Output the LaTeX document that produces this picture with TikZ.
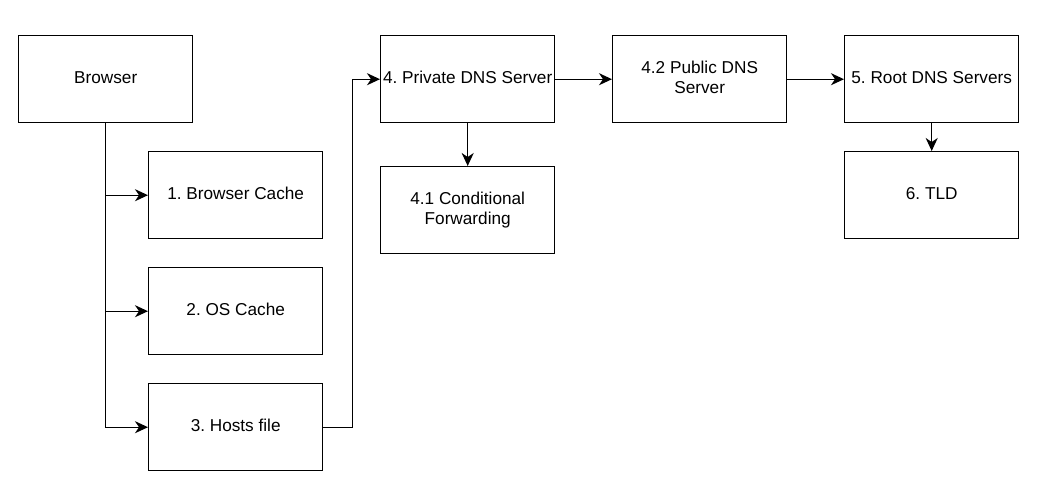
\documentclass[tikz,border=0pt]{standalone}
\usepackage{fontspec}
\setmainfont{Liberation Sans}
\usetikzlibrary{arrows.meta}
\begin{document}
\frenchspacing
\begin{tikzpicture}[x=1pt,y=-1pt,
  box/.style={draw,line width=1.4pt,minimum width=174pt,minimum height=87pt,anchor=north west,align=center,inner xsep=0pt,inner ysep=2pt,text depth=3.8pt,font=\fontsize{17.2}{20.4}\selectfont},
  conn/.style={line width=1.4pt,-{Stealth[length=13pt,width=12pt,inset=4pt]}}]
\useasboundingbox (0,0) rectangle (1047,491);
\node[box] (browser) at (18,35) {Browser};
\node[box] (bc) at (148,151) {1. Browser Cache};
\node[box] (os) at (148,267) {2. OS Cache};
\node[box] (hosts) at (148,383) {3. Hosts file};
\node[box] (priv) at (380,35) {4. Private DNS Server};
\node[box] (cond) at (380,166) {4.1 Conditional\\Forwarding};
\node[box] (pub) at (612,35) {4.2 Public DNS\\Server};
\node[box] (root) at (844,35) {5. Root DNS Servers};
\node[box] (tld) at (844,151) {6. TLD};
\draw[conn] (browser.south) |- (bc.west);
\draw[conn] (browser.south) |- (os.west);
\draw[conn] (browser.south) |- (hosts.west);
\draw[conn] (hosts.east) -- ++(29,0) |- (priv.west);
\draw[conn] (priv.east) -- (pub.west);
\draw[conn] (pub.east) -- (root.west);
\draw[conn] (priv.south) -- (cond.north);
\draw[conn] (root.south) -- (tld.north);
\end{tikzpicture}
\end{document}
